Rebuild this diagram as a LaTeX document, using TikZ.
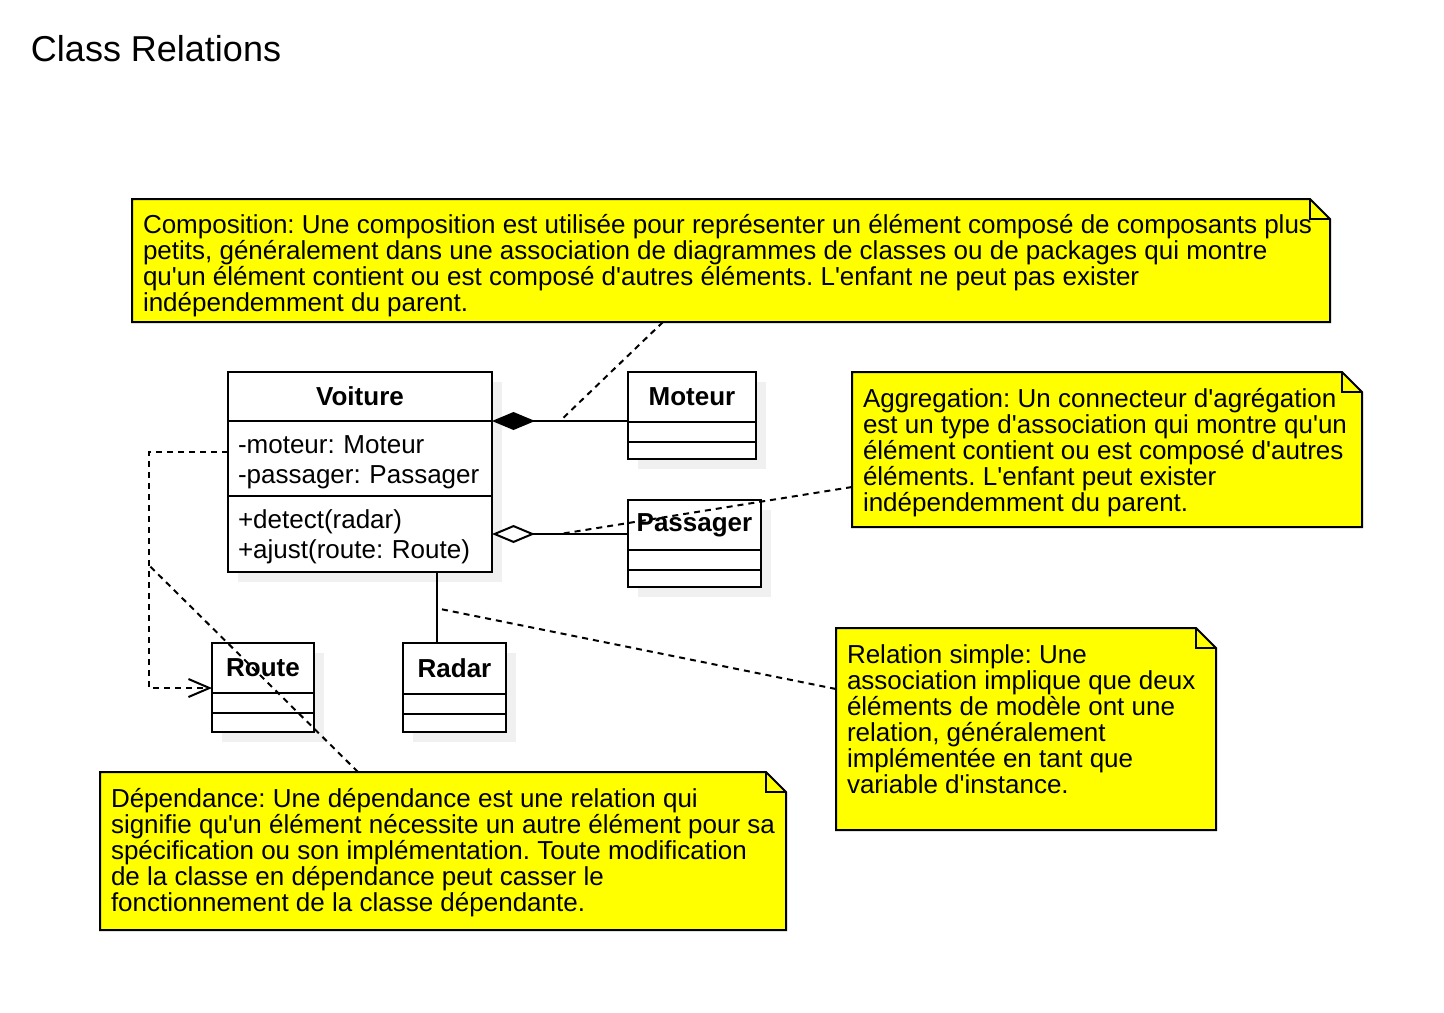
\documentclass[tikz,border=0pt]{standalone}
\usepackage{fontspec}
\setmainfont{Liberation Sans}[Ligatures=TeXOff]
\usetikzlibrary{positioning, arrows.meta, shadows}
\definecolor{noteyellow}{RGB}{255,255,0}

\begin{document}
\frenchspacing
\begin{tikzpicture}[x=0.5pt, y=-0.5pt, line width=1pt,
  font=\fontsize{13pt}{13pt}\selectfont,
  cbox/.style={draw, fill=white, inner sep=0pt, outer sep=0pt,
    drop shadow={shadow xshift=5pt, shadow yshift=-5pt, fill=black!6, opacity=1}},
  cname/.style={cbox, font=\fontsize{13pt}{15pt}\selectfont\bfseries},
  cpart/.style={cbox, inner xsep=5pt, align=left, font=\fontsize{13pt}{15pt}\selectfont},
  notebox/.style={anchor=north west, inner sep=0pt, outer sep=0pt},
  notefill/.style={fill=noteyellow, draw=black},
  notetext/.style={anchor=north west, inner sep=0pt, align=left},
  noteline/.style={dash pattern=on 3pt off 2.5pt},
  comp/.style={{Diamond[length=21.5pt, width=9pt]}-},
  aggr/.style={{Diamond[fill=white, length=21.5pt, width=9pt]}-},
  depend/.style={dash pattern=on 3pt off 2.5pt, -{Straight Barb[length=10.5pt, width=9pt]}}]
  \useasboundingbox (0,0) rectangle (1444,1012);

  \node[anchor=west, inner sep=0pt, font=\fontsize{18pt}{18pt}\selectfont] (title) at (30,49) {Class Relations};

  % classes
  \node[cname, minimum width=132pt, minimum height=24.5pt, anchor=north west] (voiture) at (228,372) {Voiture};
  \node[cpart, text width=122pt, minimum height=37.5pt, below=0pt of voiture] (vattr) {\rule{0pt}{12.5pt}\mbox{-moteur: Moteur}\\\mbox{-passager: Passager}};
  \node[cpart, text width=122pt, minimum height=38pt, below=0pt of vattr] (vmeth) {\rule{0pt}{12.5pt}\mbox{+detect(radar)}\\\mbox{+ajust(route: Route)}};

  \node[cname, minimum width=64pt, minimum height=25pt, anchor=north west] (moteur) at (628,372) {Moteur};
  \node[cbox, minimum width=64pt, minimum height=10pt, below=0pt of moteur] (mattr) {};
  \node[cbox, minimum width=64pt, minimum height=8.5pt, below=0pt of mattr] (mmeth) {};

  \node[cname, minimum width=66.5pt, minimum height=25pt, anchor=north west] (passager) at (628,500) {Passager};
  \node[cbox, minimum width=66.5pt, minimum height=10pt, below=0pt of passager] (pattr) {};
  \node[cbox, minimum width=66.5pt, minimum height=8.5pt, below=0pt of pattr] (pmeth) {};

  \node[cname, minimum width=51pt, minimum height=25pt, anchor=north west] (route) at (212,643) {Route};
  \node[cbox, minimum width=51pt, minimum height=10pt, below=0pt of route] (rattr) {};
  \node[cbox, minimum width=51pt, minimum height=9.5pt, below=0pt of rattr] (rmeth) {};

  \node[cname, minimum width=51.5pt, minimum height=25.5pt, anchor=north west] (radar) at (403,643) {Radar};
  \node[cbox, minimum width=51.5pt, minimum height=10pt, below=0pt of radar] (dattr) {};
  \node[cbox, minimum width=51.5pt, minimum height=9pt, below=0pt of dattr] (dmeth) {};

  % relations
  \draw[comp] (voiture.south east) -- coordinate[pos=0.5] (compmid) (voiture.south east -| moteur.west);
  \draw[aggr] (vmeth.east) -- coordinate[pos=0.5] (aggmid) (vmeth.east -| passager.west);
  \draw ([xshift=-9pt]radar.north) -- coordinate[pos=0.49] (assocmid) ([xshift=-9pt]radar.north |- vmeth.south);
  \draw[depend] ([yshift=3.25pt]vattr.west) -- ++(-79,0) |- coordinate[pos=0.24] (depmid) ([yshift=2.5pt]route.south west);

  % notes
  \node[notebox, minimum width=599pt, minimum height=61.5pt] (compnote) at (132,199) {};
  \filldraw[notefill] (compnote.north west) -- ([xshift=-10pt]compnote.north east) -- ([yshift=-10pt]compnote.north east) |- (compnote.south west) -- cycle;
  \draw ([xshift=-10pt]compnote.north east) |- ([yshift=-10pt]compnote.north east);
  \node[notetext] (comptext) at ([shift={(10,14)}]compnote.north west) {\rule{0pt}{9.5pt}Composition: Une composition est utilisée pour représenter un élément composé de composants plus\\petits, généralement dans une association de diagrammes de classes ou de packages qui montre\\qu'un élément contient ou est composé d'autres éléments. L'enfant ne peut pas exister\\indépendemment du parent.};

  \node[notebox, minimum width=255pt, minimum height=77.5pt] (aggnote) at (852,372) {};
  \filldraw[notefill] (aggnote.north west) -- ([xshift=-10pt]aggnote.north east) -- ([yshift=-10pt]aggnote.north east) |- (aggnote.south west) -- cycle;
  \draw ([xshift=-10pt]aggnote.north east) |- ([yshift=-10pt]aggnote.north east);
  \node[notetext] (aggtext) at ([shift={(10,15)}]aggnote.north west) {\rule{0pt}{9.5pt}Aggregation: Un connecteur d'agrégation\\est un type d'association qui montre qu'un\\élément contient ou est composé d'autres\\éléments. L'enfant peut exister\\indépendemment du parent.};

  \node[notebox, minimum width=190pt, minimum height=101pt] (relnote) at (836,628) {};
  \filldraw[notefill] (relnote.north west) -- ([xshift=-10pt]relnote.north east) -- ([yshift=-10pt]relnote.north east) |- (relnote.south west) -- cycle;
  \draw ([xshift=-10pt]relnote.north east) |- ([yshift=-10pt]relnote.north east);
  \node[notetext] (reltext) at ([shift={(10,15)}]relnote.north west) {\rule{0pt}{9.5pt}Relation simple: Une\\association implique que deux\\éléments de modèle ont une\\relation, généralement\\implémentée en tant que\\variable d'instance.};

  \node[notebox, minimum width=343pt, minimum height=79pt] (depnote) at (100,772) {};
  \filldraw[notefill] (depnote.north west) -- ([xshift=-10pt]depnote.north east) -- ([yshift=-10pt]depnote.north east) |- (depnote.south west) -- cycle;
  \draw ([xshift=-10pt]depnote.north east) |- ([yshift=-10pt]depnote.north east);
  \node[notetext] (deptext) at ([shift={(10,15)}]depnote.north west) {\rule{0pt}{9.5pt}Dépendance: Une dépendance est une relation qui\\signifie qu'un élément nécessite un autre élément pour sa\\spécification ou son implémentation. Toute modification\\de la classe en dépendance peut casser le\\fonctionnement de la classe dépendante.};

  % note links
  \draw[noteline] ([xshift=-34pt]compnote.south) -- (compmid);
  \draw[noteline] ([yshift=-18.75pt]aggnote.west) -- (aggmid);
  \draw[noteline] ([yshift=20pt]relnote.west) -- (assocmid);
  \draw[noteline] ([xshift=-42.5pt]depnote.north) -- (depmid);
\end{tikzpicture}
\end{document}
